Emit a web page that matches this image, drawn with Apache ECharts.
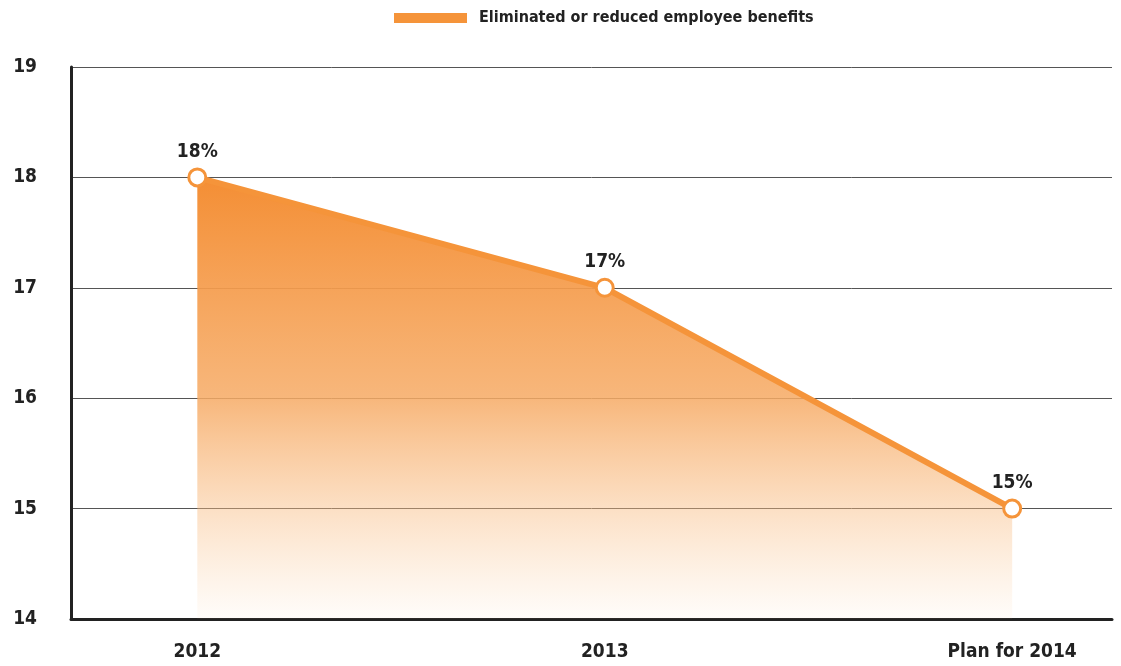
<!DOCTYPE html>
<html><head><meta charset="utf-8">
<script src="https://cdn.jsdelivr.net/npm/echarts@6/dist/echarts.min.js"></script>
<style>html,body{margin:0;padding:0;background:#fff}#c{width:1121px;height:666px}</style>
</head><body><div id="c"></div>
<script>
const categories = ['2012', '2013', 'Plan for 2014'];
const seriesName = 'Eliminated or reduced employee benefits';
const values = [18, 17, 15];
const yTicks = [14, 15, 16, 17, 18, 19];

const FONT = "'Liberation Sans Narrow', 'DejaVu Sans Condensed', 'Roboto', sans-serif";
const ORANGE = '#f5943a';
const chart = echarts.init(document.getElementById('c'));
chart.setOption({
  animation: false,
  backgroundColor: '#fff',
  legend: {
    top: 5, left: 389,
    itemWidth: 71, itemHeight: 8, itemGap: 12,
    icon: 'rect',
    textStyle: { fontFamily: FONT, fontWeight: 'bold', fontSize: 16, color: '#222', padding: [0, 0, 0, 8] },
    data: [{ name: seriesName, itemStyle: { color: ORANGE } }]
  },
  grid: { left: 71, right: 9, top: 67, bottom: 47 },
  xAxis: {
    type: 'value', min: -0.31, max: 2.245,
    axisLine: { show: true, lineStyle: { color: '#222', width: 3 } },
    axisTick: { show: false },
    splitLine: { show: false },
    axisLabel: {
      customValues: categories.map((c, i) => i),
      formatter: v => categories[Math.round(v)],
      margin: 24, fontFamily: FONT, fontWeight: 'bold', fontSize: 19, color: '#222'
    }
  },
  yAxis: {
    type: 'value', min: yTicks[0], max: yTicks[yTicks.length - 1], interval: 1,
    axisLine: { show: true, onZero: false, lineStyle: { color: '#222', width: 3 } },
    axisTick: { show: false },
    splitLine: { lineStyle: { color: '#555', width: 1 } },
    axisLabel: { margin: 34, fontFamily: FONT, fontWeight: 'bold', fontSize: 19, color: '#222' }
  },
  series: [{
    name: seriesName, type: 'line',
    data: values.map((v, i) => [i, v]),
    lineStyle: { color: ORANGE, width: 6 },
    itemStyle: { color: '#fff', borderColor: ORANGE, borderWidth: 3 },
    symbol: 'circle', symbolSize: 17,
    areaStyle: {
      opacity: 1,
      color: new echarts.graphic.LinearGradient(0, 0, 0, 1, [
        { offset: 0, color: 'rgba(244,142,52,1)' },
        { offset: 0.5, color: 'rgba(246,170,100,0.85)' },
        { offset: 1, color: 'rgba(250,200,150,0.05)' }
      ])
    },
    label: {
      show: true, position: 'top', distance: 6,
      formatter: p => p.value[1] + '%',
      fontFamily: FONT, fontWeight: 'bold', fontSize: 19, color: '#222'
    },
    z: 3
  }]
});
</script></body></html>
